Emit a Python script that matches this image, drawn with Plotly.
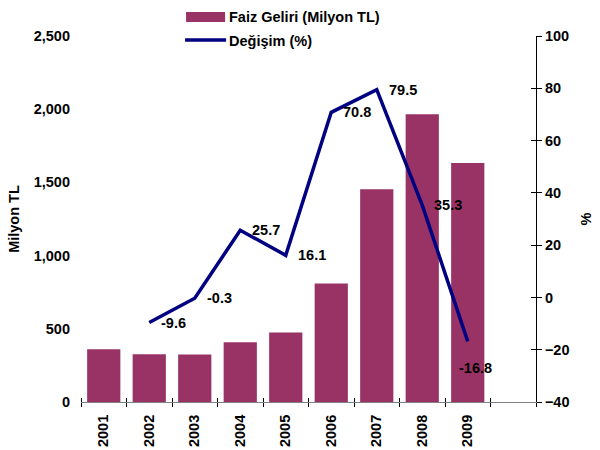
import plotly.graph_objects as go

years = [2001, 2002, 2003, 2004, 2005, 2006, 2007, 2008, 2009]
income = [360, 326, 325, 408, 475, 810, 1453, 1965, 1633]
change_years = [2002, 2003, 2004, 2005, 2006, 2007, 2008, 2009]
change = [-9.6, -0.3, 25.7, 16.1, 70.8, 79.5, 35.3, -16.8]

bar_color = '#993366'
line_color = '#000080'
font = dict(family='Liberation Sans, Arial', size=14.5, color='black')

fig = go.Figure()
fig.add_trace(go.Bar(
    x=years, y=income, name='Faiz Geliri (Milyon TL)',
    marker=dict(color=bar_color, line=dict(width=0)),
    width=0.73
))
fig.add_trace(go.Scatter(
    x=change_years, y=change, name='Değişim (%)', yaxis='y2',
    mode='lines', line=dict(color=line_color, width=3.5)
))

# value labels next to line points
for i, (x, v) in enumerate(zip(change_years, change)):
    last = i == len(change) - 1
    fig.add_annotation(
        x=x, y=v, yref='y2', text='<b>%.1f</b>' % v, showarrow=False,
        xanchor='center' if last else 'left',
        xshift=8 if last else 10, yshift=-27 if last else 0,
        font=font
    )

# custom legend
ph = 365.7
pw = 454.7
fig.add_shape(type='rect', xref='paper', yref='paper',
              x0=(186 - 81) / pw, x1=(225 - 81) / pw,
              y0=1 + 14 / ph, y1=1 + 24 / ph,
              fillcolor=bar_color, line=dict(width=0))
fig.add_shape(type='line', xref='paper', yref='paper',
              x0=(185 - 81) / pw, x1=(226 - 81) / pw,
              y0=1 - 4 / ph, y1=1 - 4 / ph,
              line=dict(color=line_color, width=3.5))
fig.add_annotation(xref='paper', yref='paper', x=(227 - 81) / pw, y=1 + 19 / ph,
                   text='<b>Faiz Geliri (Milyon TL)</b>', showarrow=False,
                   xanchor='left', yanchor='middle', font=font)
fig.add_annotation(xref='paper', yref='paper', x=(227 - 81) / pw, y=1 - 5 / ph,
                   text='<b>Değişim (%)</b>', showarrow=False,
                   xanchor='left', yanchor='middle', font=font)

fig.update_layout(
    width=600, height=450,
    margin=dict(l=81, r=64, t=36, b=48, pad=0),
    plot_bgcolor='white', paper_bgcolor='white',
    showlegend=False,
    font=font,
    xaxis=dict(
        range=[2000.5, 2010.5], tickvals=years, ticktext=['<b>%d</b>' % y for y in years],
        tickangle=-90, ticks='', showgrid=False, zeroline=False, automargin=False,
        showline=True, linecolor='#808080', linewidth=1, ticklabelstandoff=6,
        minor=dict(tick0=2000.5, dtick=1, ticks='outside', ticklen=4,
                   tickcolor='black', showgrid=False),
        tickfont=font
    ),
    # second x axis only for the upper half of the crossing tick marks
    xaxis2=dict(
        overlaying='x', matches='x', side='bottom', showticklabels=False,
        ticks='', showgrid=False, zeroline=False, showline=False, automargin=False,
        minor=dict(tick0=2000.5, dtick=1, ticks='inside', ticklen=4,
                   tickcolor='black', showgrid=False)
    ),
    yaxis=dict(
        range=[0, 2500], dtick=500, tickformat=',', showgrid=False, zeroline=False,
        showline=False, ticks='', ticklabelstandoff=10, automargin=False,
        tickprefix='<b>', ticksuffix='</b>',
        title=dict(text='<b>Milyon TL</b>', font=font, standoff=10),
        tickfont=font
    ),
    yaxis2=dict(
        range=[-40, 100], dtick=20, overlaying='y', side='right',
        showgrid=False, zeroline=False, showline=True, linecolor='black', linewidth=1,
        ticks='outside', ticklen=5, tickcolor='black', automargin=False,
        tickprefix='<b>', ticksuffix='</b>',
        title=dict(text='<b>%</b>', font=font, standoff=12),
        tickfont=font
    ),
    yaxis3=dict(
        overlaying='y', matches='y2', side='right', showticklabels=False,
        showgrid=False, zeroline=False, showline=False, automargin=False,
        ticks='inside', ticklen=5, tickcolor='black'
    ),
    bargap=0.27
)

# empty helper traces so the extra tick axes get drawn
fig.add_trace(go.Scatter(x=[], y=[], xaxis='x2', showlegend=False, hoverinfo='skip'))
fig.add_trace(go.Scatter(x=[], y=[], yaxis='y3', showlegend=False, hoverinfo='skip'))

# drop the default body margin so the figure sits at the window's corner
fig.write_html('out.html', config={'displayModeBar': False},
               post_script="document.body.style.margin='0';")
